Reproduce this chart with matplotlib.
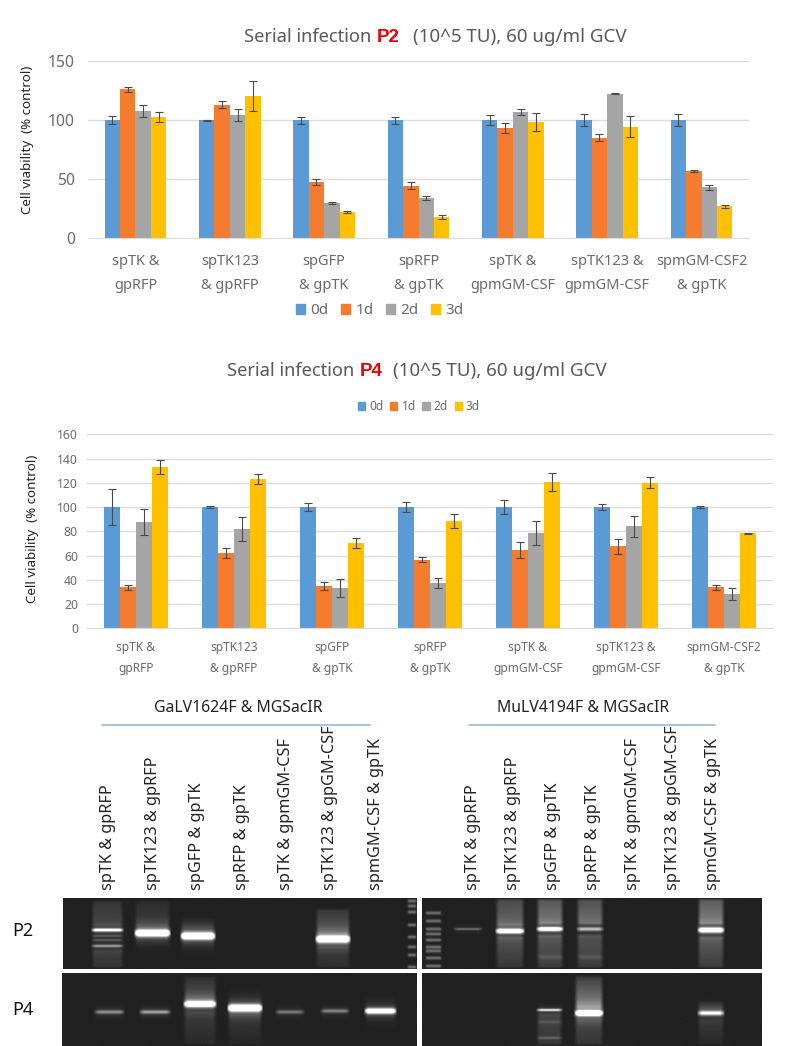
import numpy as np
import matplotlib
matplotlib.use("Agg")
import matplotlib.pyplot as plt
from matplotlib.patches import Patch, Rectangle

plt.rcParams['font.family'] = ['Noto Sans', 'DejaVu Sans']

W, H = 787, 1046
series = ['0d', '1d', '2d', '3d']
colors = ['#5B9BD5', '#F57B2E', '#A5A5A5', '#FFC000']

cats_p2 = ['spTK &\ngpRFP', 'spTK123\n& gpRFP', 'spGFP\n& gpTK', 'spRFP\n& gpTK',
           'spTK &\ngpmGM-CSF', 'spTK123 &\ngpmGM-CSF', 'spmGM-CSF2\n& gpTK']
p2_0d = [100, 100, 100, 100, 100, 100, 100]
p2_1d = [126, 113, 47.5, 44.4, 93.5, 85, 57]
p2_2d = [108, 104.5, 30, 34, 107, 122.5, 43]
p2_3d = [102.5, 120.5, 22, 18, 98.5, 94.5, 27]
p2_0d_err = [3.5, 0.5, 3, 3, 4, 5, 5]
p2_1d_err = [2, 3, 2.5, 3, 4, 3, 1]
p2_2d_err = [5, 5, 1, 1.5, 2.5, 0.3, 2]
p2_3d_err = [4, 13, 1, 1.5, 7.5, 9, 1.5]

cats_p4 = cats_p2
p4_0d = [100, 100, 100, 100, 100, 100, 100]
p4_1d = [34, 62, 35, 56.5, 64.5, 67.5, 34]
p4_2d = [87.7, 82, 33, 37.5, 78.5, 84, 28]
p4_3d = [133, 123, 70.5, 88.5, 120.5, 120, 78.5]
p4_0d_err = [14.5, 0.5, 3, 4, 5.5, 2.5, 1]
p4_1d_err = [2, 4, 3, 2, 6.5, 6.5, 2]
p4_2d_err = [10.5, 10, 7.5, 4, 10, 9, 5]
p4_3d_err = [6, 4, 4, 5.5, 7.5, 4.5, 0.5]

lanes_left = ['spTK & gpRFP', 'spTK123 & gpRFP', 'spGFP & gpTK', 'spRFP & gpTK',
              'spTK & gpmGM-CSF', 'spTK123 & gpGM-CSF', 'spmGM-CSF & gpTK']
lanes_left_x = [108, 153, 197, 242, 286, 330, 376]
lanes_right_x = [473, 513, 553, 593, 633, 673, 713]

# gel bands: x0, x1, y, strength, thickness
bands_l_p2 = [(91, 124, 930, .95, 1.6), (91, 124, 936, .16, 1.3), (91, 124, 940, .18, 1.3),
              (91, 124, 946, .42, 1.5), (134, 171, 933, 1.5, 3.2), (180, 216, 936, 1.5, 3.2),
              (315, 351, 939, 1.5, 3.4)]
bands_l_p4 = [(94, 125, 1012, .38, 1.9), (139, 171, 1012, .45, 1.9), (183, 217, 1004, 1.3, 3),
              (227, 263, 1008, 1.5, 3.3), (275, 305, 1012, .3, 1.9), (320, 350, 1011, .34, 1.9),
              (364, 397, 1011, 1.2, 2.6)]
bands_r_p2 = [(453, 483, 929, .26, 1.2), (495, 525, 931, 1.2, 2.4), (536, 564, 929, 1.05, 2.2),
              (576, 604, 929, .55, 2), (697, 725, 930, 1.15, 2.6),
              (536, 564, 957, .08, 2), (576, 604, 957, .08, 2)]
bands_r_p4 = [(536, 563, 1010, .7, 1.3), (536, 563, 1022, .08, 1.5), (536, 563, 1038, .15, 1.2),
              (574, 604, 1013, 1.4, 3), (697, 725, 1013, .8, 2.4)]
# smears: x0, x1, y0, y1, strength at the band end, strength at the far end
smears_l_p2 = [(91, 124, 928, 900, .16, .07), (91, 124, 948, 969, .14, .06), (134, 171, 930, 900, .12, .04),
               (180, 216, 934, 918, .1, .02), (315, 351, 936, 908, .22, .08), (315, 351, 944, 969, .1, .05)]
smears_l_p4 = [(183, 217, 1002, 975, .2, .05), (183, 217, 1010, 1046, .1, .03), (227, 263, 1012, 1046, .08, .02)]
smears_r_p2 = [(495, 525, 928, 898, .28, .16), (495, 525, 935, 969, .2, .08), (536, 564, 926, 898, .36, .2),
               (536, 564, 933, 969, .22, .1), (576, 604, 926, 898, .32, .18), (576, 604, 933, 969, .2, .1),
               (697, 725, 926, 898, .38, .22), (697, 725, 935, 969, .24, .1)]
smears_r_p4 = [(536, 563, 1012, 1046, .14, .08), (574, 604, 1010, 975, .42, .1), (574, 604, 1017, 1046, .16, .07),
               (697, 725, 1011, 1000, .14, .03), (697, 725, 1018, 1046, .09, .03)]
# ladders: x0, x1, band y positions
ladder_l_y = [901, 906, 912, 925, 937, 947, 955, 967]
ladder_r_y = [913, 921, 929, 934, 940, 947, 951, 958, 966]


def bars(rect, cats, vals, errs, ymax, step, fs, lw):
    x0, x1, y0, y1 = rect
    ax = fig.add_axes([x0 / W, 1 - y1 / H, (x1 - x0) / W, (y1 - y0) / H])
    x = np.arange(len(cats))
    bw = 0.163
    for i, (v, e) in enumerate(zip(vals, errs)):
        ax.bar(x + (i - 1.5) * bw, v, bw, color=colors[i], label=series[i], zorder=2,
               yerr=e, error_kw=dict(ecolor='#4a4a4a', elinewidth=0.8, capsize=2.6, capthick=0.8, zorder=3))
    ax.set_xlim(-0.5, len(cats) - 0.5)
    ax.set_ylim(0, ymax)
    ax.set_yticks(np.arange(0, ymax + 1, step))
    ax.yaxis.grid(True, color='#DCDCDC', lw=1)
    ax.set_axisbelow(True)
    for s in ['top', 'left', 'right']:
        ax.spines[s].set_visible(False)
    ax.spines['bottom'].set_color('#DCDCDC')
    ax.set_xticks(x)
    ax.set_xticklabels(cats, fontsize=fs, color='#6a6a6a', linespacing=lw, ma='center')
    ax.tick_params(length=0)
    ax.tick_params(axis='y', labelsize=fs + 0.8, labelcolor='#6a6a6a')
    return ax


fig = plt.figure(figsize=(W / 100, H / 100), dpi=100, facecolor='white')

ax1 = bars((88.3, 748.7, 61, 238.3), cats_p2, [p2_0d, p2_1d, p2_2d, p2_3d],
           [p2_0d_err, p2_1d_err, p2_2d_err, p2_3d_err], 150, 50, 10.5, 1.85)
ax1.tick_params(axis='x', pad=11)
ax1.tick_params(axis='y', pad=9.5)
ax2 = bars((87, 773, 434.3, 628.3), cats_p4, [p4_0d, p4_1d, p4_2d, p4_3d],
           [p4_0d_err, p4_1d_err, p4_2d_err, p4_3d_err], 160, 20, 8.6, 1.75)
ax2.tick_params(axis='x', pad=9.5)
ax2.tick_params(axis='y', labelsize=8.8, pad=6.5)

# overlay in pixel coordinates
ov = fig.add_axes([0, 0, 1, 1], zorder=5)
ov.set_xlim(0, W)
ov.set_ylim(H, 0)
ov.axis('off')
ov.patch.set_alpha(0)


def legend(ax, cx, cy, fs, gap, sq):
    hs = [Patch(color=c, label=s) for c, s in zip(colors, series)]
    ax.legend(handles=hs, ncol=4, frameon=False, fontsize=fs, handlelength=sq, handleheight=sq,
              handletextpad=0.35, columnspacing=gap, loc='center', borderpad=0, labelcolor='#6a6a6a',
              bbox_to_anchor=(cx / W, 1 - cy / H), bbox_transform=fig.transFigure)


legend(ax1, 380, 311, 11, 0.8, 0.6)
legend(ax2, 419, 407, 8.6, 0.55, 0.6)

TITLE = '#595959'
for (xa, xb, xc, y, lab) in [(244, 377, 413, 37, 'P2'), (227, 360, 393, 371, 'P4')]:
    ov.text(xa, y, 'Serial infection', fontsize=13.2, color=TITLE, va='center', ha='left')
    ov.text(xb, y, lab, fontsize=13.5, color='#EE0000', fontweight='bold', family='Liberation Sans',
            va='center', ha='left')
    ov.text(xc, y, '(10^5 TU), 60 ug/ml GCV', fontsize=13.5, color=TITLE, va='center', ha='left')

ov.text(27, 139.5, 'Cell viability  (% control)', rotation=90, fontsize=9.6, color='#222222', ha='center', va='center')
ov.text(33, 528.5, 'Cell viability  (% control)', rotation=90, fontsize=9.6, color='#222222', ha='center', va='center')

ov.text(238, 708, 'GaLV1624F & MGSacIR', fontsize=11.4, color='#222222', ha='center', va='center')
ov.text(583, 708, 'MuLV4194F & MGSacIR', fontsize=11.4, color='#222222', ha='center', va='center')
ov.plot([102, 370], [724.5, 724.5], color='#8FB4D4', lw=1.1, zorder=4)
ov.plot([469, 715], [724.5, 724.5], color='#8FB4D4', lw=1.1, zorder=4)

clip = Rectangle((0, 725), W, 200, transform=ov.transData)
for xs in (lanes_left_x, lanes_right_x):
    for xp, lab in zip(xs, lanes_left):
        t = ov.text(xp, 890, lab, rotation=90, fontsize=11.7, color='#222222', ha='center', va='bottom')
        t.set_clip_path(clip)

ov.text(23, 931, 'P2', fontsize=13, color='#111111', ha='center', va='center')
ov.text(23, 1010, 'P4', fontsize=13, color='#111111', ha='center', va='center')


def gel(x0, x1, y0, y1, bands, smears, ladders=()):
    yy, xx = np.mgrid[y0:y1, x0:x1] + 0.5
    img = np.full(yy.shape, 0.13)
    # faint regular texture of the scanned gel
    img += 0.008 * np.sin(xx * 1.7) * np.sin(yy * 1.3)
    edge = lambda a, b, s: np.clip((xx - a) / s, 0, 1) * np.clip((b - xx) / s, 0, 1)
    for a, b, c, d, s0, s1 in smears:
        lo, hi = min(c, d), max(c, d)
        t = np.clip((yy - c) / (d - c), 0, 1)
        env = np.clip((yy - lo) / 3, 0, 1) * np.clip((hi - yy) / 3, 0, 1)
        img += (s0 + (s1 - s0) * t) * edge(a, b, 4) * env
    for a, b, c, s, t in bands:
        img += s * edge(a, b, 5) ** 0.7 * np.exp(-((yy - c) / t) ** 2)
        img += 0.14 * s * edge(a, b, 4) * np.exp(-((yy - c) / (t * 3)) ** 2)
    for a, b, ys in ladders:
        for c in ys:
            img += 0.3 * edge(a, b, 2) * np.exp(-((yy - c) / 1.7) ** 2)
    ov.imshow(np.clip(img, 0, 1), cmap='gray', vmin=0, vmax=1, extent=(x0, x1, y1, y0),
              aspect='auto', interpolation='bilinear', zorder=3)


gel(63, 417, 898, 969, bands_l_p2, smears_l_p2, [(407, 417, ladder_l_y)])
gel(62, 417, 973, 1046, bands_l_p4, smears_l_p4)
gel(422, 762, 898, 969, bands_r_p2, smears_r_p2, [(425, 442, ladder_r_y)])
gel(422, 762, 973, 1046, bands_r_p4, smears_r_p4)
ov.set_xlim(0, W)
ov.set_ylim(H, 0)

fig.savefig('out.png', dpi=100, facecolor='white')
